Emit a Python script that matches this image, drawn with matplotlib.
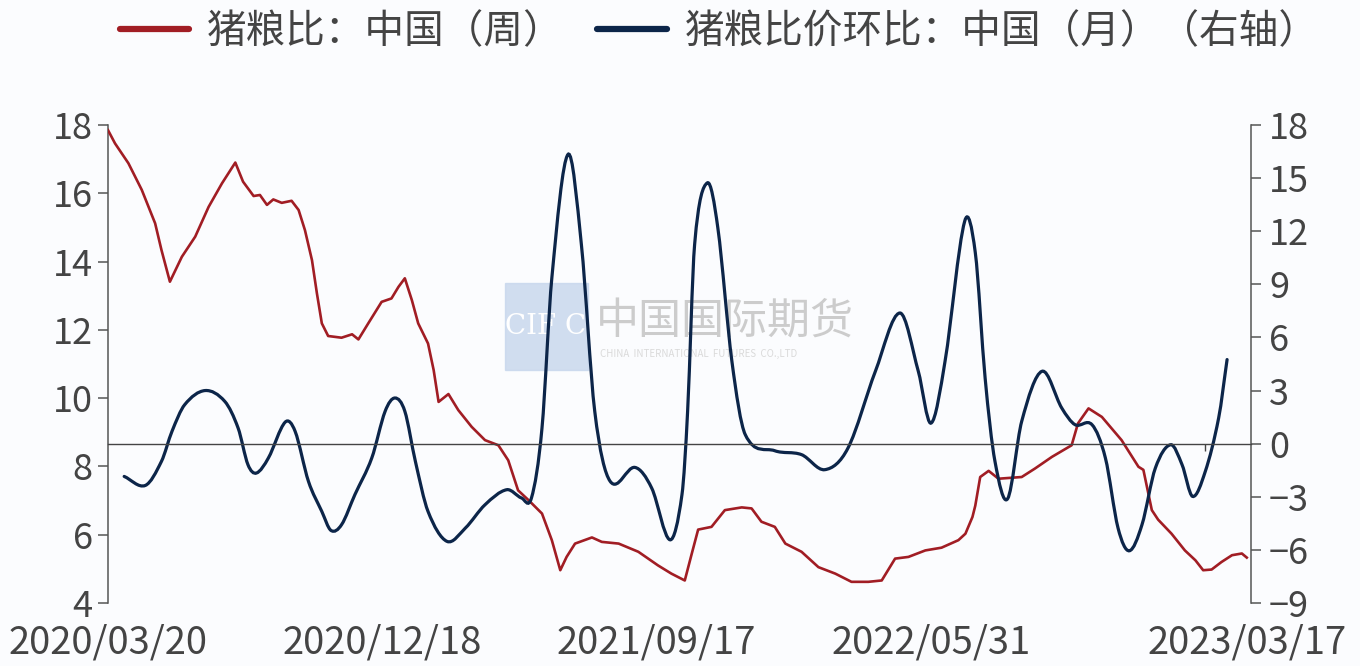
import numpy as np
import matplotlib
matplotlib.use("Agg")
import matplotlib.pyplot as plt
from matplotlib.path import Path
from matplotlib.patches import PathPatch, Rectangle
from matplotlib.lines import Line2D

plt.rcParams['font.family'] = ['Noto Sans CJK SC', 'DejaVu Sans']

# 猪粮比：中国（周）— 横轴为周序号
red_x = [0.0, 1.0, 2.9, 4.8, 6.7, 7.6, 8.8, 10.5, 12.4, 14.3, 16.2, 18.1, 19.2, 20.7,
         21.6, 22.6, 23.5, 24.7, 26.1, 27.1, 28.0, 29.0, 29.7, 30.4, 31.3, 33.2, 34.7,
         35.6, 37.0, 38.9, 40.3, 41.3, 42.2, 43.2, 44.1, 45.5, 46.3, 47.0, 48.4, 49.8,
         51.7, 53.6, 55.5, 56.9, 58.3, 59.8, 61.7, 63.1, 64.3, 65.2, 66.4, 68.8, 70.2,
         72.6, 75.4, 78.2, 80.1, 82.0, 83.0, 83.9, 85.8, 87.7, 90.1, 91.5, 92.9, 94.8,
         96.3, 98.6, 101.0, 103.4, 105.7, 108.1, 110.0, 111.9, 113.8, 116.2, 118.5,
         120.9, 121.9, 122.9, 123.3, 124.0, 125.2, 126.6, 129.9, 131.8, 134.2, 137.0,
         137.9, 139.4, 141.3, 144.1, 146.5, 147.2, 148.4, 149.3, 151.2, 153.1, 154.6,
         155.7, 156.9, 158.3, 159.8, 161.2, 161.9]
red_y = [17.85, 17.46, 16.88, 16.10, 15.12, 14.34, 13.41, 14.14, 14.73, 15.60, 16.29,
         16.90, 16.34, 15.92, 15.95, 15.66, 15.82, 15.72, 15.78, 15.51, 14.92, 14.04,
         13.07, 12.19, 11.82, 11.77, 11.87, 11.72, 12.19, 12.82, 12.92, 13.26, 13.51,
         12.87, 12.19, 11.60, 10.82, 9.89, 10.12, 9.65, 9.16, 8.77, 8.62, 8.18, 7.30,
         7.01, 6.62, 5.84, 4.96, 5.35, 5.74, 5.92, 5.79, 5.74, 5.50, 5.10, 4.86, 4.66,
         5.45, 6.15, 6.23, 6.72, 6.80, 6.77, 6.38, 6.23, 5.74, 5.50, 5.05, 4.86, 4.62,
         4.62, 4.66, 5.30, 5.35, 5.54, 5.62, 5.84, 6.03, 6.52, 6.85, 7.69, 7.87, 7.64,
         7.69, 7.94, 8.28, 8.62, 9.26, 9.70, 9.45, 8.77, 7.99, 7.90, 6.72, 6.44, 6.03,
         5.54, 5.25, 4.96, 4.98, 5.20, 5.40, 5.45, 5.33]

# 猪粮比价环比：中国（月）（右轴），读图得到的曲线点
blue_x = [2.3, 5.3, 7.6, 9.1, 10.9, 13.8, 16.6, 18.5, 19.9, 21.1, 22.8, 25.2, 26.6,
          28.5, 30.4, 31.7, 33.2, 35.1, 37.5, 39.4, 40.8, 42.2, 43.7, 45.5, 48.2, 50.8,
          53.6, 56.7, 58.8, 60.2, 61.7, 63.1, 65.4, 67.3, 69.2, 71.4, 74.9, 77.3, 79.9,
          81.6, 82.4, 83.4, 85.2, 86.7, 88.7, 90.6, 94.8, 98.6, 101.9, 105.2, 109.1,
          112.6, 115.2, 117.0, 119.0, 121.8, 123.3, 124.7, 126.1, 127.9, 129.9, 132.8,
          135.6, 137.5, 139.9, 141.8, 143.6, 145.2, 147.0, 148.9, 151.1, 152.7, 154.2,
          156.0, 157.9, 159.1]
blue_y = [-1.85, -2.36, -1.00, 0.70, 2.20, 3.00, 2.39, 0.88, -1.19, -1.66, -0.81, 1.22,
          0.70, -2.13, -3.83, -4.90, -4.58, -2.88, -0.81, 1.83, 2.58, 1.83, -1.00, -3.83,
          -5.52, -4.77, -3.45, -2.60, -3.07, -3.07, 0.88, 9.36, 16.34, 11.25, 1.83, -2.13,
          -1.34, -2.51, -5.43, -2.88, 1.80, 11.25, 14.73, 12.19, 4.65, 0.51, -0.40, -0.62,
          -1.47, -0.25, 4.09, 7.38, 4.09, 1.16, 4.65, 12.57, 10.80, 3.71, -1.00, -3.11,
          1.26, 4.09, 2.01, 1.07, 1.07, -0.81, -4.77, -6.05, -4.58, -1.38, -0.06, -1.19,
          -2.98, -1.57, 1.45, 4.75]

tick_pos = [0, 39, 78, 117, 162]
tick_labels = ['2020/03/20', '2020/12/18', '2021/09/17', '2022/05/31', '2023/03/17']
tick_marks = [0, 39, 78, 117, 156]

red_name = '猪粮比：中国（周）'
blue_name = '猪粮比价环比：中国（月）（右轴）'

bg = '#fbfcfe'
red_c = '#a11d24'
blue_c = '#0c2549'
txt_c = '#444444'
ax_c = '#555555'


def smooth_path(x, y):
    # 平滑线（三次 Hermite -> Bezier）
    x = np.asarray(x, float)
    y = np.asarray(y, float)
    n = len(x)
    m = np.zeros(n)
    m[1:-1] = (y[2:] - y[:-2]) / (x[2:] - x[:-2])
    m[0] = (y[1] - y[0]) / (x[1] - x[0])
    m[-1] = (y[-1] - y[-2]) / (x[-1] - x[-2])
    verts = [(x[0], y[0])]
    codes = [Path.MOVETO]
    for k in range(n - 1):
        dx = x[k + 1] - x[k]
        verts += [(x[k] + dx / 3, y[k] + m[k] * dx / 3),
                  (x[k + 1] - dx / 3, y[k + 1] - m[k + 1] * dx / 3),
                  (x[k + 1], y[k + 1])]
        codes += [Path.CURVE4] * 3
    return Path(verts, codes)


fig = plt.figure(figsize=(13.6, 6.66), dpi=100, facecolor=bg)

# 水印
fig.add_artist(Rectangle((505 / 1360, 1 - 370 / 666), 83 / 1360, 87 / 666,
                         transform=fig.transFigure, color='#c6d6ec', alpha=0.8, zorder=-2))
fig.text(546 / 1360, 1 - 326 / 666, 'CIF C', color='white', fontsize=20,
         ha='center', va='center', family='DejaVu Serif', zorder=-1)
fig.text(596 / 1360, 1 - 322 / 666, '中国国际期货', color='#cccccc', fontsize=31,
         ha='left', va='center', zorder=-1)
fig.text(600 / 1360, 1 - 354 / 666, 'CHINA  INTERNATIONAL  FUTURES  CO.,LTD', color='#dadada',
         fontsize=7, ha='left', va='center', zorder=-1)

ax = fig.add_axes([108 / 1360, 1 - 603 / 666, (1251 - 108) / 1360, (603 - 125) / 666])
ax.patch.set_visible(False)
ax.plot(red_x, red_y, color=red_c, lw=1.9, solid_joinstyle='round', zorder=3)
ax.set_xlim(0, 162.5)
ax.set_ylim(4, 18)
ax.set_yticks(range(4, 19, 2))
ax.set_xticks(tick_pos)
ax.set_xticklabels(tick_labels)
ax.set_xticks(tick_marks, minor=True)
for s in ['top', 'right', 'bottom']:
    ax.spines[s].set_visible(False)
ax.spines['left'].set_color(ax_c)
ax.spines['left'].set_linewidth(1.1)
ax.tick_params(axis='y', length=7, width=1.1, color=ax_c, pad=4,
               labelsize=26, labelcolor=txt_c)
ax.tick_params(axis='x', which='both', length=0, pad=15, labelsize=27.5, labelcolor=txt_c)

ax2 = ax.twinx()
ax2.set_ylim(-9, 18)
ax2.set_yticks(range(-9, 19, 3))
ax2.add_patch(PathPatch(smooth_path(blue_x, blue_y), fill=False, ec=blue_c, lw=2.3,
                        capstyle='round', zorder=2))
ax2.xaxis.set_visible(True)
ax2.spines['top'].set_visible(False)
ax2.spines['left'].set_visible(False)
ax2.spines['right'].set_color(ax_c)
ax2.spines['right'].set_linewidth(1.1)
ax2.spines['bottom'].set_position(('data', 0))
ax2.spines['bottom'].set_color('#444444')
ax2.spines['bottom'].set_linewidth(1.0)
ax2.tick_params(axis='y', length=7, width=1.1, color=ax_c, pad=6,
                labelsize=26, labelcolor=txt_c)
ax2.tick_params(axis='x', which='major', length=0, labelbottom=False)
ax2.tick_params(axis='x', which='minor', length=5, width=1.0, color='#444444',
                direction='out', labelbottom=False)
ax2.set_xlim(0, 162.5)

handles = [Line2D([], [], color=red_c, lw=4.5, solid_capstyle='round'),
           Line2D([], [], color=blue_c, lw=4.5, solid_capstyle='round')]
fig.legend(handles, [red_name, blue_name], loc='center left',
           bbox_to_anchor=(120 / 1360, 1 - 32 / 666), ncol=2, frameon=False,
           fontsize=28.5, handlelength=1.75, handletextpad=0.45, columnspacing=0.85,
           borderpad=0, borderaxespad=0, labelcolor=txt_c)

fig.savefig('out.png', dpi=100, facecolor=fig.get_facecolor())
